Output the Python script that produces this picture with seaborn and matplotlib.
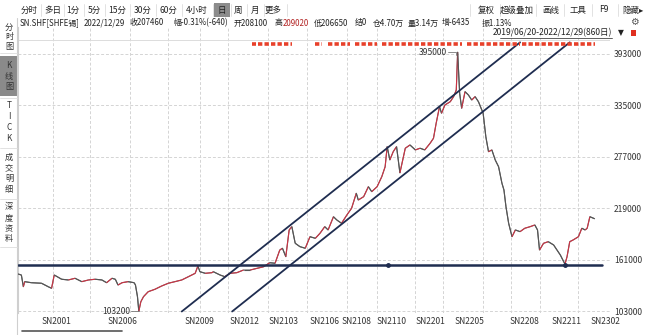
import numpy as np
import pandas as pd
import matplotlib
matplotlib.use("Agg")
import matplotlib.pyplot as plt
import seaborn as sns
from matplotlib.collections import LineCollection
from matplotlib.patches import Rectangle

# ---------------- data ----------------
days = [0, 5, 8, 10, 20, 35, 45, 50, 54, 65, 75, 85, 95, 105, 115, 125, 132, 140, 145, 149,
        155, 164, 173, 175, 178, 180, 183, 187, 194, 204, 214, 224, 234, 244, 254, 264, 268, 271, 279, 289,
        291, 301, 308, 316, 326, 336, 346, 356, 366, 375, 383, 390, 394, 399, 404, 408, 413, 420, 428, 435,
        443, 450, 457, 462, 470, 475, 482, 490, 497, 504, 507, 515, 522, 527, 535, 542, 547, 550, 554, 559,
        564, 569, 577, 584, 592, 599, 606, 614, 619, 623, 628, 631, 636, 644, 649, 653, 655, 658, 661, 666,
        671, 676, 681, 686, 691, 693, 697, 701, 706, 711, 716, 721, 724, 727, 731, 736, 741, 748, 755, 763,
        770, 774, 777, 783, 790, 798, 803, 808, 813, 815, 818, 822, 827, 835, 840, 845, 848, 852, 859]
prices = [145200, 144100, 130900, 136600, 135400, 134800, 130900, 129100, 144100, 139300,
          138500, 140400, 136600, 138500, 139300, 138500, 135400, 140400, 139300, 132800,
          135400, 136600, 135400, 132800, 119700, 103200, 114000, 119700, 125300, 128000,
          131700, 134800, 136600, 138500, 142200, 146000, 154200, 147800, 146000, 146700,
          147800, 144100, 142200, 146000, 146700, 149700, 149700, 151600, 153400, 157900,
          157300, 172200, 174200, 164700, 194800, 198500, 179800, 176000, 174200, 187200,
          185400, 191100, 198500, 194800, 209700, 206000, 202300, 211700, 219200, 236100,
          228500, 232300, 243500, 237900, 243500, 254800, 266000, 288600, 273600, 282900,
          288600, 259000, 286800, 290500, 284900, 286800, 284900, 292400, 298000, 314900,
          333600, 326200, 335500, 339200, 344900, 352400, 395000, 348700, 331800, 350500,
          346800, 341100, 344900, 339200, 329900, 326200, 299800, 282900, 284900, 273600,
          266000, 247400, 239800, 221000, 202300, 187200, 194800, 192900, 196700, 198500,
          200400, 194800, 172200, 179800, 181600, 177900, 172200, 166600, 159100, 156500,
          164700, 181600, 183500, 187200, 196700, 194800, 196700, 209700, 207460]

y_ticks = [103000, 161000, 219000, 277000, 335000, 393000]
x_tick_days = [57, 155, 271, 337, 395, 456, 505, 557, 614, 672, 755, 817, 875]
x_tick_labels = ["SN2001", "SN2006", "SN2009", "SN2012", "SN2103", "SN2106", "SN2108",
                 "SN2110", "SN2201", "SN2205", "SN2208", "SN2211", "SN2302"]
grid_days = [52, 107, 167, 224, 271, 313, 373, 431, 490, 535, 592, 633, 693, 735, 778, 835]

support_price = 154800
support_mark_days = [551, 815]
channel_upper_days = [244, 748]
channel_lower_days = [319, 822]
channel_prices = [103000, 406000]
marker_spans = [(349, 355), (358, 408), (443, 453), (462, 495), (502, 535),
                (542, 662), (669, 748), (751, 860)]
marker_price = 404200
top_line_price = 408700
high_day, high_price = 655, 395000
low_day, low_price = 180, 103200

# ---------------- figure ----------------
sns.set_theme(style="white")
plt.rcParams['font.family'] = ['Noto Sans CJK SC', 'DejaVu Sans']

W, H = 645, 335
fig = plt.figure(figsize=(W / 100, H / 100), dpi=100)
fig.patch.set_facecolor('white')

def fx(px):
    return px / W

def fy(py):
    return 1 - py / H

ax = fig.add_axes([fx(18), fy(313), fx(610) - fx(18), fy(27) - fy(313)])
ax.set_facecolor('white')
ax.set_xlim(0, 882)
ax.set_ylim(101300, 423300)

# grid
for p in y_ticks:
    ax.axhline(p, color='#d4d4d4', lw=0.7, ls=(0, (3, 2)), zorder=0)
for d in grid_days:
    ax.axvline(d, color='#d4d4d4', lw=0.7, ls=(0, (3, 2)), zorder=0)
ax.axhline(top_line_price, color='#dcdcdc', lw=0.7, zorder=0)

# price line
df = pd.DataFrame({'day': days, 'price': prices})
sns.lineplot(data=df, x='day', y='price', ax=ax, color='#666666', lw=0.8, zorder=3)
pts = np.column_stack([df['day'].values, df['price'].values])
segs = np.stack([pts[:-1], pts[1:]], axis=1)
cols = ['#cc3344' if b > a else '#555555' for a, b in zip(prices[:-1], prices[1:])]
ax.add_collection(LineCollection(segs, colors=cols, linewidths=0.8, zorder=4))

# support line
ax.axhline(support_price, xmin=0, xmax=870 / 882, color='#1f2d50', lw=1.8, zorder=5)
ax.plot(support_mark_days, [support_price] * len(support_mark_days), 'o',
        color='#1f2d50', ms=2.5, zorder=6)

# channel lines
ax.plot(channel_upper_days, channel_prices, color='#1f2d50', lw=1.3, zorder=5)
ax.plot(channel_lower_days, channel_prices, color='#1f2d50', lw=1.3, zorder=5)

# red markers row
for a, b in marker_spans:
    ax.plot([a, b], [marker_price, marker_price], color='#e8402a', lw=2.6,
            ls=(0, (1.2, 0.6)), solid_capstyle='butt', zorder=6)

# annotations
ax.plot([high_day - 15, high_day - 2, high_day - 2], [high_price, high_price, high_price - 3000],
        color='#777777', lw=0.6, zorder=6)
ax.text(high_day - 16, high_price, '395000', ha='right', va='center', fontsize=6.1,
        color='#333333', zorder=7)
ax.plot([low_day - 12, low_day], [low_price, low_price], color='#777777', lw=0.6, zorder=6)
ax.text(low_day - 13, low_price, '103200', ha='right', va='center', fontsize=6.1,
        color='#333333', zorder=7)

# axes ticks
ax.yaxis.tick_right()
ax.set_yticks(y_ticks)
ax.set_yticklabels([str(v) for v in y_ticks], fontsize=6.1, color='#333333')
ax.set_xticks(x_tick_days)
ax.set_xticklabels(x_tick_labels, fontsize=6.1, color='#333333')
ax.tick_params(axis='both', length=0, pad=3)
ax.set_xlabel('')
ax.set_ylabel('')
for s in ['top', 'right', 'bottom']:
    ax.spines[s].set_visible(False)
ax.spines['left'].set_color('#cfcfcf')
ax.spines['left'].set_linewidth(0.8)

# ---------------- header / toolbar ----------------
tb_items = [("分时", 29), ("多日", 53), ("1分", 73), ("5分", 94), ("15分", 117), ("30分", 143),
            ("60分", 168), ("4小时", 197), ("日", 222), ("周", 238), ("月", 255), ("更多", 273)]
fig.patches.append(Rectangle((fx(214), fy(17)), fx(16), fy(3) - fy(17), transform=fig.transFigure,
                             facecolor='#8c8c8c', edgecolor='none', zorder=0))
for t, x in tb_items:
    fig.text(fx(x), fy(10), t, ha='center', va='center', fontsize=6.1, color='#222222')
for x in [41, 64, 84, 105, 130, 156, 182, 213, 231, 247, 264, 287]:
    fig.add_artist(plt.Line2D([fx(x), fx(x)], [fy(4), fy(16)], color='#dddddd', lw=0.6))

rt_items = [("复权", 486), ("超级叠加", 517), ("画线", 551), ("工具", 578), ("F9", 604), ("隐藏▸", 633)]
for t, x in rt_items:
    fig.text(fx(x), fy(10), t, ha='center', va='center', fontsize=6.1, color='#222222')
for x in [470, 500, 536, 564, 592, 618]:
    fig.add_artist(plt.Line2D([fx(x), fx(x)], [fy(4), fy(16)], color='#dddddd', lw=0.6))

row2 = [("SN.SHF[SHFE锡]", 20, '#222222'), ("2022/12/29", 84, '#222222'),
        ("收207460", 130, '#222222'), ("幅-0.31%(-640)", 173, '#222222'),
        ("开208100", 234, '#222222'), ("高", 275, '#222222'), ("209020", 283, '#b22222'),
        ("低206650", 314, '#222222'), ("结0", 355, '#222222'), ("仓4.70万", 373, '#222222'),
        ("量3.14万", 408, '#222222'), ("增-6435", 442, '#222222'), ("振1.13%", 482, '#222222')]
for t, x, c in row2:
    fig.text(fx(x), fy(23), t, ha='left', va='center', fontsize=5.7, color=c)

fig.text(fx(634), fy(22), '⚙', ha='center', va='center', fontsize=7, color='#555555',
         family=['DejaVu Sans'])
fig.text(fx(612), fy(33), '2019/06/20-2022/12/29(860日)', ha='right', va='center',
         fontsize=6.1, color='#222222')
fig.add_artist(plt.Line2D([fx(500), fx(612)], [fy(38), fy(38)], color='#444444', lw=0.6))
fig.text(fx(621), fy(33), '▼', ha='center', va='center', fontsize=5.5, color='#222222',
         family=['DejaVu Sans'])
fig.patches.append(Rectangle((fx(631), fy(36)), fx(5), fy(30) - fy(36), transform=fig.transFigure,
                             facecolor='#e03020', edgecolor='none'))

# ---------------- left panel ----------------
fig.add_artist(plt.Line2D([fx(17), fx(17)], [fy(18), fy(335)], color='#cfcfcf', lw=0.8))
fig.patches.append(Rectangle((0, fy(96)), fx(17), fy(56) - fy(96), transform=fig.transFigure,
                             facecolor='#8a8a8a', edgecolor='none'))
panel = [("分时图", [27, 37, 47]), ("K线图", [65, 76, 87]), ("TICK", [105, 117, 128, 139]),
         ("成交明细", [157, 168, 178, 189]), ("深度资料", [207, 218, 229, 239])]
for word, ys in panel:
    for ch, yy in zip(word, ys):
        fig.text(fx(9), fy(yy), ch, ha='center', va='center', fontsize=5.9, color='#333333')
for yy in [53, 98, 148, 199, 247]:
    fig.add_artist(plt.Line2D([0, fx(17)], [fy(yy), fy(yy)], color='#dddddd', lw=0.6))

# scrollbar
fig.add_artist(plt.Line2D([fx(22), fx(122)], [fy(331), fy(331)], color='#555555', lw=1.2))

fig.savefig('out.png', dpi=100, facecolor='white')
